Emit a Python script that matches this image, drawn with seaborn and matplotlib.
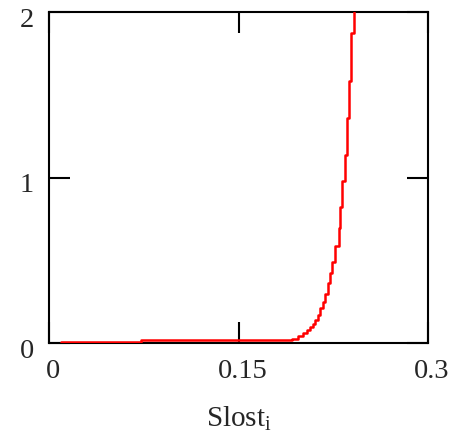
import numpy as np
import pandas as pd
import matplotlib
matplotlib.use("Agg")
import matplotlib.pyplot as plt
import matplotlib.transforms as mtransforms
import seaborn as sns

# Data (step points)
slost = [0.0093, 0.0730, 0.1920, 0.1975, 0.2014, 0.2046, 0.2070, 0.2094,
         0.2110, 0.2133, 0.2149, 0.2173, 0.2189, 0.2213, 0.2229, 0.2244,
         0.2268, 0.2300, 0.2308, 0.2324, 0.2340, 0.2363, 0.2379, 0.2395,
         0.2419]
yval = [0.006, 0.018, 0.026, 0.044, 0.062, 0.080, 0.098, 0.117,
        0.141, 0.171, 0.213, 0.250, 0.298, 0.364, 0.425, 0.491,
        0.588, 0.697, 0.823, 0.980, 1.137, 1.360, 1.584, 1.874,
        2.100]
xticks = [0, 0.15, 0.3]
xticklabels = ["0", "0.15", "0.3"]
yticks = [0, 1, 2]
yticklabels = ["0", "1", "2"]

df = pd.DataFrame({"x": slost, "y": yval})

sns.set_style("white")
plt.rcParams["font.family"] = ["Liberation Serif", "DejaVu Serif"]
plt.rcParams["mathtext.fontset"] = "custom"
plt.rcParams["mathtext.rm"] = "Liberation Serif"
plt.rcParams["mathtext.it"] = "Liberation Serif"

fig = plt.figure(figsize=(4.58, 4.33), dpi=100)
ax = fig.add_axes([0.1076, 0.2072, 0.8264, 0.7644])

sns.lineplot(data=df, x="x", y="y", ax=ax, color="red", linewidth=1.8,
             drawstyle="steps-post", estimator=None, sort=False, zorder=3)

ax.set_xlim(0, 0.3)
ax.set_ylim(0, 2)
ax.set_xticks(xticks)
ax.set_xticklabels(xticklabels)
ax.set_yticks(yticks)
ax.set_yticklabels(yticklabels)

for s in ax.spines.values():
    s.set_visible(True)
    s.set_color("black")
    s.set_linewidth(1.5)

ax.tick_params(direction="in", length=15, width=1.5, color="black",
               labelsize=20.5, top=True, right=True, bottom=True, left=True,
               labeltop=False, labelright=False)
ax.tick_params(axis="x", pad=11)
ax.tick_params(axis="y", pad=11)

# nudge labels like the original
dx = mtransforms.ScaledTranslation(4 / 100, 0, fig.dpi_scale_trans)
for lab in ax.get_xticklabels():
    lab.set_transform(lab.get_transform() + dx)
dy = mtransforms.ScaledTranslation(0, -5 / 100, fig.dpi_scale_trans)
for lab in ax.get_yticklabels():
    lab.set_transform(lab.get_transform() + dy)

ax.set_xlabel(r"Slost$_{\mathrm{i}}$", fontsize=21, labelpad=15)
ax.set_ylabel("")

fig.savefig("out.png", dpi=100)
